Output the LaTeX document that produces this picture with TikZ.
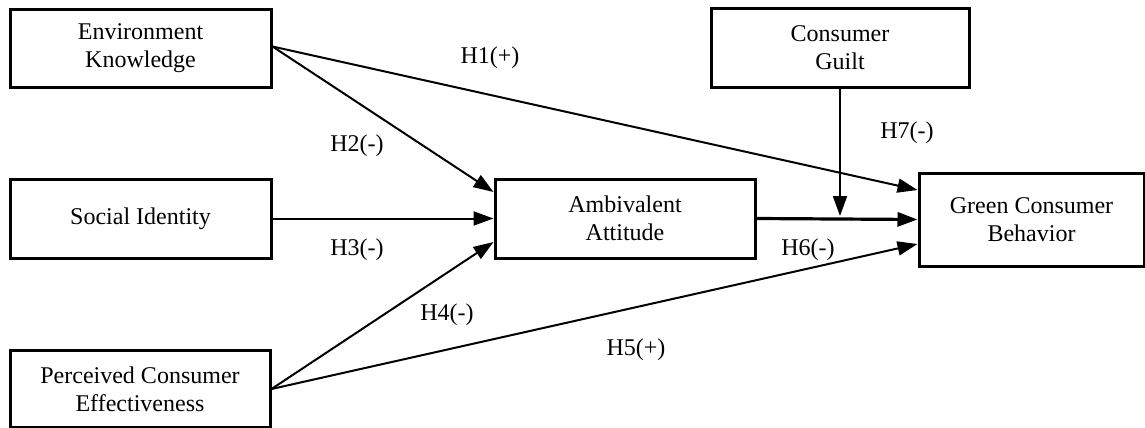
\documentclass[tikz,border=0pt]{standalone}
\usepackage{fontspec}
\setmainfont{Liberation Serif}
\usetikzlibrary{arrows.meta}
\begin{document}
\begin{tikzpicture}[x=1pt,y=-1pt,
  box/.style={draw=black, line width=3pt, rectangle, align=center, inner sep=0pt,
    font=\fontsize{24}{28}\selectfont},
  link/.style={line width=2pt, -{Triangle[length=20pt,width=14pt]}},
  hlab/.style={font=\fontsize{24}{28}\selectfont, inner sep=0pt}]
\useasboundingbox (0,0) rectangle (1145,428);
\node[box, minimum width=261pt, minimum height=77pt] (EK) at (140.5,48.5) {Environment\\Knowledge};
\node[box, minimum width=261pt, minimum height=79pt] (SI) at (140.5,218.5) {Social Identity};
\node[box, minimum width=260pt, minimum height=77pt] (PCE) at (140,389) {Perceived Consumer\\Effectiveness};
\node[box, minimum width=260pt, minimum height=79pt] (AA) at (625,218.5) {Ambivalent\\Attitude};
\node[box, minimum width=258pt, minimum height=78pt] (CG) at (840,48) {Consumer\\Guilt};
\node[box, minimum width=225pt, minimum height=93pt] (GCB) at (1031.5,219.5) {Green Consumer\\Behavior};
\coordinate (M) at (840,216);
\draw[link] ([yshift=2pt]EK.east) -- ([yshift=29.5pt]GCB.west);
\draw[link] ([yshift=2pt]EK.east) -- ([yshift=26.5pt]AA.west);
\draw[link] (SI.east) -- (AA.west);
\draw[link] (PCE.east) -- ([yshift=-23.5pt]AA.west);
\draw[link] (PCE.east) -- ([yshift=-24.5pt]GCB.west);
\draw[link, line width=3.2pt] (AA.east) -- (GCB.west);
\draw[link] (CG.south) -- (M);
\node[hlab] (h1) at (490,58) {H1(+)};
\node[hlab] (h2) at (357,146) {H2(-)};
\node[hlab] (h3) at (357,250) {H3(-)};
\node[hlab] (h4) at (447,315) {H4(-)};
\node[hlab] (h5) at (636,350) {H5(+)};
\node[hlab] (h6) at (808,250) {H6(-)};
\node[hlab] (h7) at (907,133) {H7(-)};
\end{tikzpicture}
\end{document}
